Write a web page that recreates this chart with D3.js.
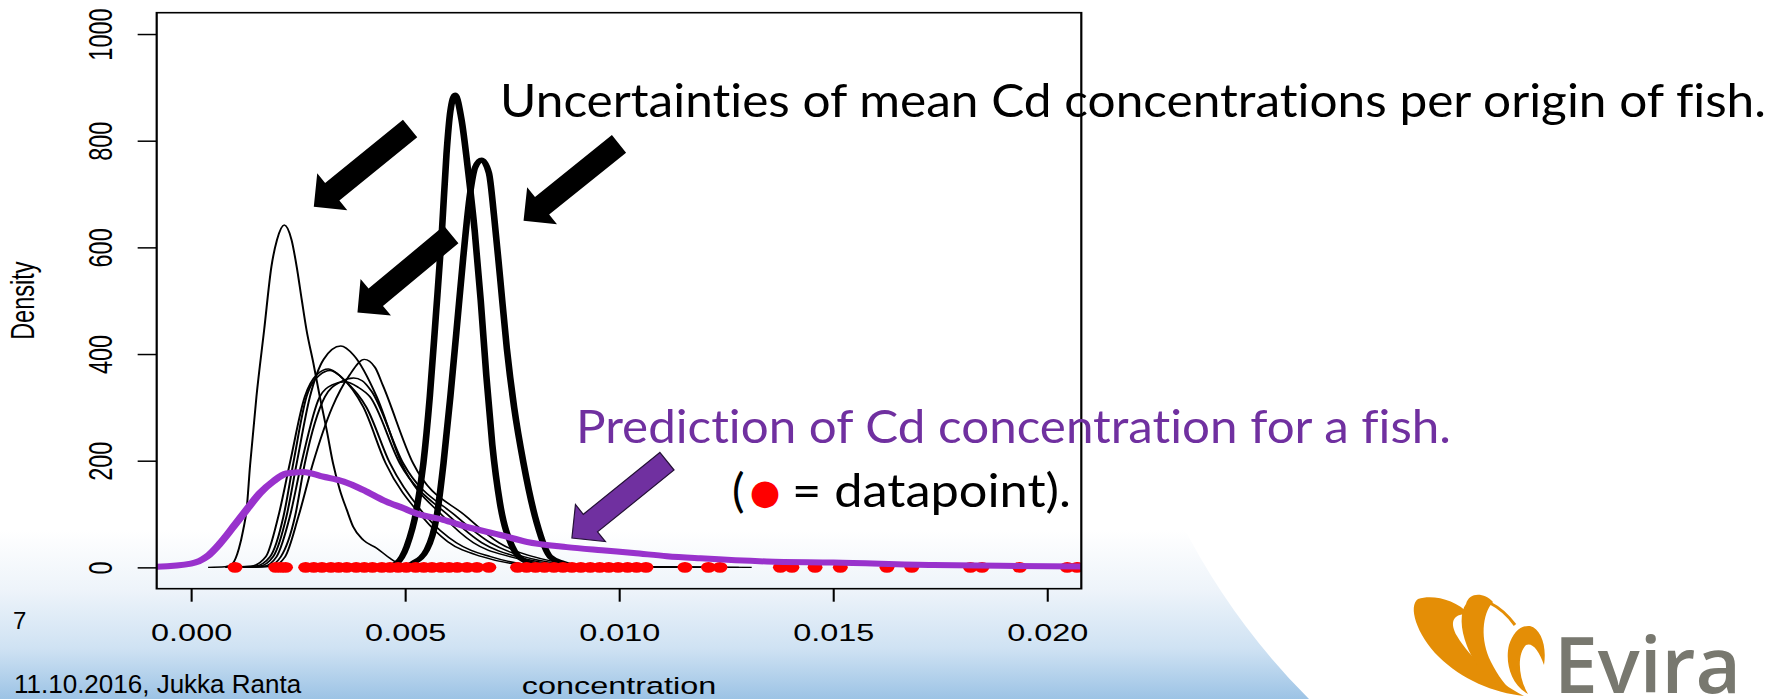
<!DOCTYPE html>
<html>
<head>
<meta charset="utf-8">
<script src="https://cdn.jsdelivr.net/npm/d3@7"></script>
<style>
  html, body { margin: 0; padding: 0; background: #ffffff; overflow: hidden; }
  svg { display: block; }
  text { font-variant-ligatures: none; font-feature-settings: "liga" 0, "clig" 0; }
</style>
</head>
<body>
<svg id="chart" width="1783" height="699"></svg>
<script>
// ---------- data ----------
const xTicks = [0, 0.005, 0.010, 0.015, 0.020];
const yTicks = [0, 200, 400, 600, 800, 1000];

// posterior densities of the mean Cd concentration, one per origin (thin lines)
const originA = [[0.0008,0],[0.0014,2],[0.00175,20],[0.00204,95],[0.00231,195],[0.00266,320],[0.00295,362],[0.00321,372],[0.0035,358],[0.00403,300],[0.00455,195],[0.0054,95],[0.0060,48],[0.0068,20],[0.0075,7],[0.0085,1],[0.0110,0]];
const originB = [[0.0009,0],[0.0015,2],[0.00185,20],[0.00216,95],[0.00239,195],[0.0027,320],[0.0030,360],[0.00325,369],[0.0036,350],[0.0041,300],[0.00465,195],[0.0055,95],[0.0062,46],[0.0070,20],[0.0077,7],[0.0088,1],[0.0115,0]];
const originC = [[0.0010,0],[0.0016,2],[0.00192,20],[0.00223,95],[0.00247,195],[0.00278,320],[0.0031,390],[0.0035,415],[0.0038,398],[0.00434,320],[0.00492,195],[0.0059,95],[0.0066,46],[0.00745,20],[0.0082,7],[0.0093,1],[0.0120,0]];
const originD = [[0.0011,0],[0.0017,2],[0.0020,20],[0.00231,95],[0.00258,195],[0.00301,320],[0.0033,342],[0.0036,348],[0.0039,338],[0.00418,320],[0.00488,195],[0.00605,95],[0.0068,46],[0.00761,20],[0.0084,7],[0.0095,1],[0.0125,0]];
const originE = [[0.0012,0],[0.0018,2],[0.0021,20],[0.00243,95],[0.00266,195],[0.00313,320],[0.0035,348],[0.0038,355],[0.0040,350],[0.00422,330],[0.00496,195],[0.00621,95],[0.0070,46],[0.00777,20],[0.0086,7],[0.0097,1],[0.0128,0]];
const originF = [[0.0013,0],[0.0019,2],[0.0022,20],[0.00251,95],[0.00285,195],[0.0033,300],[0.0037,360],[0.00405,390],[0.0043,375],[0.00449,340],[0.00519,195],[0.00644,95],[0.0072,46],[0.0080,20],[0.0088,7],[0.0100,1],[0.0131,0]];
const originG = [[0.0004,0],[0.0008,1],[0.00098,8],[0.00112,35],[0.00122,70],[0.0013,108],[0.00138,190],[0.00153,320],[0.00171,445],[0.00188,564],[0.00201,614],[0.00218,642],[0.00235,614],[0.00247,564],[0.00259,501],[0.0027,445],[0.00286,383],[0.00301,320],[0.00317,258],[0.00332,195],[0.00348,145],[0.00364,108],[0.00379,76],[0.00403,51],[0.00434,36],[0.00465,17],[0.00481,9],[0.0051,3],[0.0056,0],[0.0066,0]];

// the two well-determined origins (thick lines)
const originH = [[0.0044,0],[0.0046,1],[0.00481,8],[0.00504,39],[0.00527,108],[0.00543,195],[0.00558,320],[0.00572,470],[0.00586,626],[0.00597,775],[0.00606,855],[0.00617,886],[0.00632,840],[0.00648,740],[0.00663,630],[0.00677,500],[0.0069,360],[0.00704,230],[0.00722,120],[0.0075,40],[0.0078,12],[0.0082,3],[0.0087,0],[0.0095,0]];
const originI = [[0.0048,0],[0.0050,1],[0.00519,8],[0.00551,33],[0.00574,95],[0.0059,195],[0.00606,320],[0.0062,440],[0.00636,580],[0.00652,700],[0.00664,750],[0.00679,764],[0.00696,740],[0.00708,660],[0.00722,545],[0.00738,410],[0.00755,300],[0.00777,195],[0.00808,83],[0.00839,20],[0.0087,8],[0.0090,2],[0.0094,0],[0.0100,0]];

// predictive density for a single fish
const prediction = [[-0.0008,1],[0,7],[0.00037,20],[0.00068,45],[0.00099,76],[0.0013,108],[0.00161,139],[0.00192,161],[0.00223,176],[0.00262,179],[0.00309,170],[0.00356,161],[0.00403,145],[0.00449,126],[0.00496,111],[0.00527,101],[0.0059,89],[0.00644,76],[0.00722,61],[0.00784,48],[0.00878,38],[0.0096,32],[0.01034,27],[0.01112,21],[0.0119,17],[0.01345,11],[0.01501,9],[0.01735,4.5],[0.01891,3],[0.0208,1.5]];

// observed concentrations (rug of data points at density 0)
const observations = [0.00103,
  0.00198,0.00210,0.00221,
  0.00268,0.00287,0.00306,0.00327,0.00345,0.00364,0.00386,0.00405,0.00424,0.00446,0.00465,
  0.00484,0.00503,0.00525,0.00544,0.00563,0.00584,0.00603,0.00622,0.00645,0.00668,0.00696,
  0.00763,0.00784,0.00805,0.00826,0.00848,0.00869,0.00890,0.00911,0.00933,0.00955,0.00976,
  0.00998,0.01020,0.01041,0.01063,
  0.01154,0.01209,0.01236,0.01377,0.01404,0.01458,0.01517,0.01626,0.01684,0.01821,0.01848,
  0.01936,0.02047,0.02070];

// annotation arrows: tail and head in (concentration, density)
const arrowTails = [[0.00512,823],[0.00608,624],[0.0100,794],[0.01112,199]];
const arrowHeads = [[0.00287,676],[0.00389,478],[0.00777,650],[0.00890,55]];
const arrowFills = ["#000000","#000000","#000000","#7030A0"];

// ---------- layout ----------
const S = 1.38;                       // horizontal stretch of the R panel
const box = { left: 156.7, right: 1081.3, top: 12.7, bottom: 588.7 };
const rFont = "'Liberation Sans', Arial, Helvetica, sans-serif";
const slideFont = "Lato, 'Open Sans', sans-serif";

const svg = d3.select("#chart");
const defs = svg.append("defs");

// slide background band
const grad = defs.append("linearGradient").attr("id", "band")
  .attr("gradientUnits", "userSpaceOnUse")
  .attr("x1", 0).attr("x2", 0).attr("y1", 530).attr("y2", 699);
[[0, "#ffffff"], [0.35, "#eef4fa"], [0.7, "#cfe2f3"], [1, "#9cc3e5"]]
  .forEach(([o, c]) => grad.append("stop").attr("offset", o).attr("stop-color", c));
svg.append("path")
  .attr("d", "M0,470 L1165,470 L1180,520 Q1230,620 1309,699 L0,699 Z")
  .attr("fill", "url(#band)");

// scales (panel coordinates are stretched by S horizontally)
const x = d3.scaleLinear().domain([-0.0008, 0.0208]).range([box.left / S, box.right / S]);
const y = d3.scaleLinear().domain([-40, 1040]).range([box.bottom, box.top]);
const xs = d3.scaleLinear().domain(x.domain()).range([box.left, box.right]);

defs.append("clipPath").attr("id", "plotClip").append("rect")
  .attr("x", x.range()[0]).attr("y", box.top)
  .attr("width", x.range()[1] - x.range()[0]).attr("height", box.bottom - box.top);

const panel = svg.append("g").attr("transform", `scale(${S},1)`);
const plot = panel.append("g").attr("clip-path", "url(#plotClip)");

const line = d3.line().x(d => x(d[0])).y(d => y(d[1])).curve(d3.curveMonotoneX);

const thinCurves = [originA, originB, originC, originD, originE, originF, originG];
plot.selectAll("path.thin").data(thinCurves).join("path")
  .attr("class", "thin").attr("d", line)
  .attr("fill", "none").attr("stroke", "#000").attr("stroke-width", 1.45)
  .attr("stroke-linejoin", "round");

plot.selectAll("path.thick").data([originH, originI]).join("path")
  .attr("class", "thick").attr("d", line)
  .attr("fill", "none").attr("stroke", "#000").attr("stroke-width", 4.8)
  .attr("stroke-linejoin", "round").attr("stroke-linecap", "round");

plot.selectAll("circle.obs").data(observations).join("circle")
  .attr("class", "obs")
  .attr("cx", d => x(d)).attr("cy", y(0)).attr("r", 5.4)
  .attr("fill", "#ff0000");

plot.append("path").datum(prediction).attr("d", line)
  .attr("fill", "none").attr("stroke", "#9932CC").attr("stroke-width", 6)
  .attr("stroke-linejoin", "round");

// axes
const xAxis = d3.axisBottom(x).tickValues(xTicks).tickSize(13).tickSizeOuter(0)
  .tickFormat(d3.format(".3f"));
panel.append("g").attr("transform", `translate(0,${box.bottom})`).call(xAxis)
  .call(a => {
    a.attr("font-family", rFont).attr("font-size", 23.5);
    a.select(".domain").remove();
    a.selectAll(".tick line").attr("stroke", "#000").attr("stroke-width", 1.5);
    a.selectAll(".tick text").attr("y", 52).attr("dy", null).attr("fill", "#000");
  });

const yAxis = d3.axisLeft(y).tickValues(yTicks).tickSize(13.8).tickSizeOuter(0)
  .tickFormat(d3.format("d"));
panel.append("g").attr("transform", `translate(${box.left / S},0)`).call(yAxis)
  .call(a => {
    a.attr("font-family", rFont).attr("font-size", 23.5);
    a.select(".domain").remove();
    a.selectAll(".tick line").attr("stroke", "#000").attr("stroke-width", 1.5);
    a.selectAll(".tick text")
      .attr("x", null).attr("dy", null).attr("text-anchor", "middle").attr("fill", "#000")
      .attr("transform", "translate(-32.4,0) rotate(-90)");
  });

panel.append("rect")
  .attr("x", x.range()[0]).attr("y", box.top)
  .attr("width", x.range()[1] - x.range()[0]).attr("height", box.bottom - box.top)
  .attr("fill", "none").attr("stroke", "#000").attr("stroke-width", 1.6);

panel.append("text")
  .attr("transform", `translate(${34.3 / S},${(box.top + box.bottom) / 2}) rotate(-90)`)
  .attr("text-anchor", "middle").attr("font-family", rFont).attr("font-size", 23.5)
  .text("Density");
panel.append("text")
  .attr("x", (box.left + box.right) / 2 / S).attr("y", 694)
  .attr("text-anchor", "middle").attr("font-family", rFont).attr("font-size", 23.5)
  .text("concentration");

// block arrows pointing at the curves
function blockArrow(t, p) {
  const dx = p[0] - t[0], dy = p[1] - t[1], L = Math.hypot(dx, dy);
  const ux = dx / L, uy = dy / L, nx = -uy, ny = ux;
  const w = 11.3, hw = 23.8, hl = 23.8;
  const bx = p[0] - ux * hl, by = p[1] - uy * hl;
  return [
    [t[0] + nx * w, t[1] + ny * w], [bx + nx * w, by + ny * w], [bx + nx * hw, by + ny * hw],
    p,
    [bx - nx * hw, by - ny * hw], [bx - nx * w, by - ny * w], [t[0] - nx * w, t[1] - ny * w]
  ];
}
const arrows = arrowTails.map((t, i) => ({
  pts: blockArrow([xs(t[0]), y(t[1])], [xs(arrowHeads[i][0]), y(arrowHeads[i][1])]),
  fill: arrowFills[i]
}));
svg.append("g").selectAll("path").data(arrows).join("path")
  .attr("d", d => "M" + d.pts.map(q => q.join(",")).join("L") + "Z")
  .attr("fill", d => d.fill)
  .attr("stroke", d => d.fill === "#000000" ? "none" : "#241036")
  .attr("stroke-width", 1.2).attr("stroke-linejoin", "miter");

// slide texts
svg.append("text").attr("x", 500).attr("y", 116.7)
  .attr("font-family", slideFont).attr("font-size", 47).attr("fill", "#000")
  .attr("textLength", 1266).attr("lengthAdjust", "spacingAndGlyphs")
  .text("Uncertainties of mean Cd concentrations per origin of fish.");

svg.append("text").attr("x", 576).attr("y", 443.3)
  .attr("font-family", slideFont).attr("font-size", 47).attr("fill", "#7030A0")
  .attr("textLength", 875).attr("lengthAdjust", "spacingAndGlyphs")
  .text("Prediction of Cd concentration for a fish.");

svg.append("text").attr("x", 732).attr("y", 506.7)
  .attr("font-family", slideFont).attr("font-size", 47).attr("fill", "#000")
  .text("(");
svg.append("text").attr("x", 765).attr("y", 504)
  .attr("text-anchor", "middle")
  .attr("font-family", "'DejaVu Sans', sans-serif").attr("font-size", 35).attr("fill", "#ff0000")
  .text("●");
svg.append("text").attr("x", 792).attr("y", 506.7)
  .attr("font-family", slideFont).attr("font-size", 47).attr("fill", "#000")
  .attr("textLength", 279).attr("lengthAdjust", "spacingAndGlyphs")
  .text("= datapoint).");

svg.append("text").attr("x", 13).attr("y", 629.3)
  .attr("font-family", rFont).attr("font-size", 24).attr("fill", "#000").text("7");
svg.append("text").attr("x", 14).attr("y", 693)
  .attr("font-family", rFont).attr("font-size", 26).attr("fill", "#000")
  .text("11.10.2016, Jukka Ranta");

// Evira logo
const logo = svg.append("g");
const orange = "#E48E06";
logo.append("path").attr("fill", orange)
  .attr("d", "M1469,614 C1456,600 1433,594 1418,599 C1408,606 1416,634 1439,657 C1461,679 1494,693 1524,696 C1497,682 1470,658 1457,636 C1449,622 1453,613 1469,614 Z");
logo.append("path").attr("fill", orange)
  .attr("d", "M1466,604 C1469,592 1484,592 1493,602 C1482,614 1480,640 1491,662 C1498,676 1506,686 1514,694 C1493,685 1475,667 1467,646 C1460,628 1460,612 1466,604 Z");
logo.append("path").attr("fill", "none").attr("stroke", orange).attr("stroke-width", 3)
  .attr("d", "M1490,603 Q1504,610 1515,625");
logo.append("path").attr("fill", orange)
  .attr("d", "M1530,626 C1541,629 1547,646 1544,665 C1539,650 1532,642 1526,645 C1517,654 1518,677 1528,694 C1510,684 1505,661 1509,645 C1513,633 1520,625 1530,626 Z");
logo.append("text").attr("x", 1554).attr("y", 693)
  .attr("font-family", "'Open Sans', sans-serif").attr("font-weight", 600)
  .attr("font-size", 77).attr("fill", "#78786F")
  .attr("textLength", 187).attr("lengthAdjust", "spacingAndGlyphs")
  .text("Evira");
</script>
</body>
</html>
